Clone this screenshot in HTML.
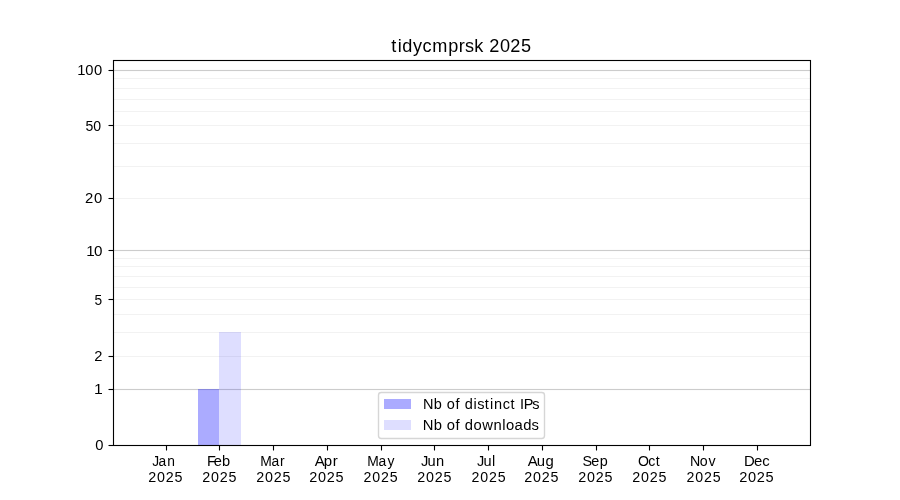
<!DOCTYPE html>
<html lang="en">
<head>
<meta charset="utf-8">
<title>tidycmprsk 2025</title>
<style>
html,body{margin:0;padding:0;background:#fff;}
body{width:900px;height:500px;overflow:hidden;font-family:"Liberation Sans",sans-serif;}
svg{will-change:transform;display:block;position:absolute;left:0;top:0;}
text{font-family:"Liberation Sans",sans-serif;fill:#000;}
.sp{stroke:#000;stroke-width:1.111;fill:none;}
.mn{stroke:#f2f2f2;stroke-width:1.111;}
</style>
</head>
<body>
<svg width="900" height="500" viewBox="0 0 900 500">
<rect x="0" y="0" width="900" height="500" fill="#fff"/>
<!-- minor grid -->
<line class="mn" x1="113" y1="78.5" x2="810.5" y2="78.5"/>
<line class="mn" x1="113" y1="88.5" x2="810.5" y2="88.5"/>
<line class="mn" x1="113" y1="99.5" x2="810.5" y2="99.5"/>
<line class="mn" x1="113" y1="111.5" x2="810.5" y2="111.5"/>
<line class="mn" x1="113" y1="125.5" x2="810.5" y2="125.5"/>
<line class="mn" x1="113" y1="143.5" x2="810.5" y2="143.5"/>
<line class="mn" x1="113" y1="166.5" x2="810.5" y2="166.5"/>
<line class="mn" x1="113" y1="198.5" x2="810.5" y2="198.5"/>
<line class="mn" x1="113" y1="258.5" x2="810.5" y2="258.5"/>
<line class="mn" x1="113" y1="266.5" x2="810.5" y2="266.5"/>
<line class="mn" x1="113" y1="276.5" x2="810.5" y2="276.5"/>
<line class="mn" x1="113" y1="287.5" x2="810.5" y2="287.5"/>
<line class="mn" x1="113" y1="299.5" x2="810.5" y2="299.5"/>
<line class="mn" x1="113" y1="314.5" x2="810.5" y2="314.5"/>
<line class="mn" x1="113" y1="332.5" x2="810.5" y2="332.5"/>
<line class="mn" x1="113" y1="356.5" x2="810.5" y2="356.5"/>
<!-- major grid -->
<rect x="113" y="69" width="698" height="3" fill="#fcfcfc" shape-rendering="crispEdges"/><rect x="113" y="70" width="698" height="1" fill="#ccc" shape-rendering="crispEdges"/>
<rect x="113" y="249" width="698" height="3" fill="#fcfcfc" shape-rendering="crispEdges"/><rect x="113" y="250" width="698" height="1" fill="#ccc" shape-rendering="crispEdges"/>
<rect x="113" y="388" width="698" height="3" fill="#fcfcfc" shape-rendering="crispEdges"/><rect x="113" y="389" width="698" height="1" fill="#ccc" shape-rendering="crispEdges"/>
<!-- bars -->
<rect x="198" y="389" width="21" height="56" fill="#0000ff" fill-opacity="0.33" shape-rendering="crispEdges"/>
<rect x="219" y="332" width="22" height="113" fill="#0000ff" fill-opacity="0.13" shape-rendering="crispEdges"/>
<!-- ticks -->
<line class="sp" x1="166.5" y1="445.5" x2="166.5" y2="450.5"/>
<line class="sp" x1="219.5" y1="445.5" x2="219.5" y2="450.5"/>
<line class="sp" x1="273.5" y1="445.5" x2="273.5" y2="450.5"/>
<line class="sp" x1="327.5" y1="445.5" x2="327.5" y2="450.5"/>
<line class="sp" x1="381.5" y1="445.5" x2="381.5" y2="450.5"/>
<line class="sp" x1="434.5" y1="445.5" x2="434.5" y2="450.5"/>
<line class="sp" x1="488.5" y1="445.5" x2="488.5" y2="450.5"/>
<line class="sp" x1="542.5" y1="445.5" x2="542.5" y2="450.5"/>
<line class="sp" x1="596.5" y1="445.5" x2="596.5" y2="450.5"/>
<line class="sp" x1="649.5" y1="445.5" x2="649.5" y2="450.5"/>
<line class="sp" x1="703.5" y1="445.5" x2="703.5" y2="450.5"/>
<line class="sp" x1="757.5" y1="445.5" x2="757.5" y2="450.5"/>
<line class="sp" x1="108.5" y1="70.5" x2="113.5" y2="70.5"/>
<line class="sp" x1="108.5" y1="125.5" x2="113.5" y2="125.5"/>
<line class="sp" x1="108.5" y1="198.5" x2="113.5" y2="198.5"/>
<line class="sp" x1="108.5" y1="250.5" x2="113.5" y2="250.5"/>
<line class="sp" x1="108.5" y1="299.5" x2="113.5" y2="299.5"/>
<line class="sp" x1="108.5" y1="356.5" x2="113.5" y2="356.5"/>
<line class="sp" x1="108.5" y1="389.5" x2="113.5" y2="389.5"/>
<line class="sp" x1="108.5" y1="445.5" x2="113.5" y2="445.5"/>
<!-- spines -->
<rect class="sp" x="113.5" y="60.5" width="697" height="385"/>
<!-- title -->
<text transform="matrix(1.0300 0 0 1.0000 0 51.700)" x="379.75 386.14 390.61 401.09 410.11 419.72 435.19 445.50 451.38 460.54 469.64 474.95 485.44 495.48 505.92" font-size="17.6">tidycmprsk 2025</text>
<!-- y tick labels -->
<text transform="matrix(1.0100 0 0 1.0374 0 75.000)" x="76.49 84.42 93.16" font-size="14.6">100</text>
<text transform="matrix(0.9650 0 0 1.0374 0 131.000)" x="88.56 96.52" font-size="14.6">50</text>
<text transform="matrix(1.0150 0 0 1.0374 0 203.000)" x="83.73 92.60" font-size="14.6">20</text>
<text transform="matrix(1.0400 0 0 1.0374 0 256.000)" x="83.06 90.47" font-size="14.6">10</text>
<text transform="matrix(0.9400 0 0 1.0374 0 305.000)" x="100.49" font-size="14.6">5</text>
<text transform="matrix(1.0050 0 0 1.0374 0 361.000)" x="93.66" font-size="14.6">2</text>
<text transform="matrix(1.0800 0 0 1.0374 0 394.000)" x="86.95" font-size="14.6">1</text>
<text transform="matrix(1.0100 0 0 1.0374 0 450.000)" x="94.20" font-size="14.6">0</text>
<!-- x tick labels -->
<text transform="matrix(0.9450 0 0 0.9656 0 466.000)" x="161.13 167.61 176.92" font-size="14.6">Jan</text>
<text transform="matrix(0.9800 0 0 1.0374 0 482.000)" x="151.16 160.25 169.15 178.03" font-size="14.6">2025</text>
<text transform="matrix(1.0000 0 0 0.9656 0 465.500)" x="207.11 213.73 221.97" font-size="14.6">Feb</text>
<text transform="matrix(0.9800 0 0 1.0374 0 482.000)" x="206.27 215.36 224.25 233.14" font-size="14.6">2025</text>
<text transform="matrix(0.9500 0 0 0.9656 0 466.000)" x="273.97 285.70 294.64" font-size="14.6">Mar</text>
<text transform="matrix(0.9800 0 0 1.0374 0 482.000)" x="261.37 270.46 279.36 288.24" font-size="14.6">2025</text>
<text transform="matrix(1.0300 0 0 0.9656 0 465.600)" x="305.52 314.27 323.04" font-size="14.6">Apr</text>
<text transform="matrix(0.9900 0 0 1.0374 0 482.250)" x="312.43 321.30 329.97 338.93" font-size="14.6">2025</text>
<text transform="matrix(0.9500 0 0 0.9656 0 466.000)" x="386.61 398.34 407.89" font-size="14.6">May</text>
<text transform="matrix(0.9700 0 0 1.0374 0 482.000)" x="374.81 383.76 392.82 401.87" font-size="14.6">2025</text>
<text transform="matrix(1.0050 0 0 0.9656 0 466.000)" x="418.88 425.42 433.73" font-size="14.6">Jun</text>
<text transform="matrix(0.9800 0 0 1.0374 0 482.000)" x="425.65 434.74 443.64 452.52" font-size="14.6">2025</text>
<text transform="matrix(0.9950 0 0 0.9656 0 465.750)" x="479.30 485.90 494.38" font-size="14.6">Jul</text>
<text transform="matrix(0.9700 0 0 1.0374 0 482.000)" x="486.16 495.13 504.05 513.27" font-size="14.6">2025</text>
<text transform="matrix(1.0200 0 0 0.9656 0 466.450)" x="517.52 526.22 534.81" font-size="14.6">Aug</text>
<text transform="matrix(0.9800 0 0 1.0374 0 481.500)" x="534.84 543.93 552.83 561.86" font-size="14.6">2025</text>
<text transform="matrix(0.9850 0 0 0.9656 0 466.350)" x="591.30 600.17 608.76" font-size="14.6">Sep</text>
<text transform="matrix(0.9800 0 0 1.0374 0 481.600)" x="589.93 599.00 607.88 616.75" font-size="14.6">2025</text>
<text transform="matrix(0.9650 0 0 0.9656 0 465.750)" x="661.18 671.77 679.42" font-size="14.6">Oct</text>
<text transform="matrix(0.9800 0 0 1.0374 0 482.000)" x="645.04 654.13 663.03 671.91" font-size="14.6">2025</text>
<text transform="matrix(0.9750 0 0 0.9656 0 465.500)" x="707.57 717.57 726.59" font-size="14.6">Nov</text>
<text transform="matrix(0.9700 0 0 1.0374 0 482.000)" x="707.81 716.78 725.70 734.92" font-size="14.6">2025</text>
<text transform="matrix(1.0200 0 0 0.9656 0 466.000)" x="729.33 739.24 747.24" font-size="14.6">Dec</text>
<text transform="matrix(1.0000 0 0 1.0374 0 482.000)" x="739.21 747.97 756.69 765.39" font-size="14.6">2025</text>
<!-- legend -->
<rect x="378.5" y="392.5" width="166" height="46" rx="2.8" ry="2.8" fill="#fff" fill-opacity="0.8" stroke="#ccc" stroke-opacity="0.8" stroke-width="1.389"/>
<rect x="384" y="399" width="27" height="10" fill="#0000ff" fill-opacity="0.33" shape-rendering="crispEdges"/>
<rect x="384" y="420" width="27" height="10" fill="#0000ff" fill-opacity="0.13" shape-rendering="crispEdges"/>
<text transform="matrix(0.9950 0 0 0.9857 0 409.000)" x="425.21 435.84 444.74 448.88 457.81 462.61 467.14 476.01 479.66 487.20 492.47 496.56 505.35 513.05 518.35 522.62 526.27 534.94" font-size="14.6">Nb of distinct IPs</text>
<text transform="matrix(1.0150 0 0 1.0558 0 430.000)" x="416.43 427.46 435.93 440.26 448.75 453.46 457.86 466.45 475.15 486.16 494.80 498.46 506.90 515.57 523.76" font-size="14.6">Nb of downloads</text>
</svg>
</body>
</html>
